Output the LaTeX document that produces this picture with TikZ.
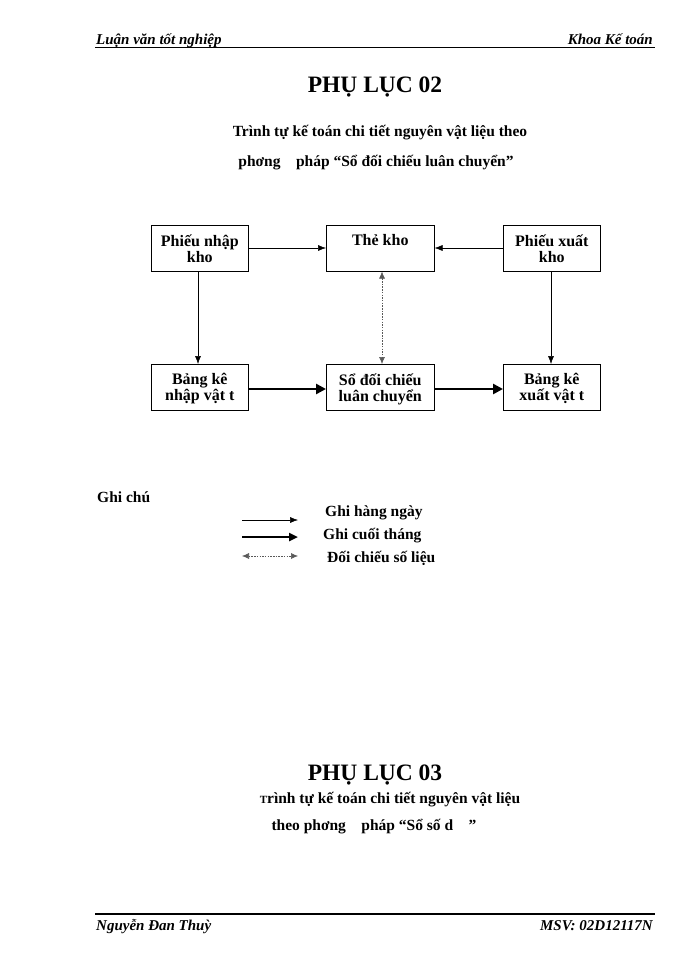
\documentclass[tikz,border=0pt]{standalone}
\usepackage{fontspec}
\setmainfont{Liberation Serif}
\usetikzlibrary{arrows.meta}
\begin{document}
\begin{tikzpicture}[x=1pt,y=-1pt,
  box/.style={draw,line width=0.6pt,minimum width=97pt,minimum height=46pt,anchor=north west,inner sep=0pt},
  btxt/.style={font=\fontsize{16}{16}\selectfont\bfseries,align=center},
  thin/.style={line width=0.5pt,-{Latex[length=8pt,width=6pt]}},
  heavy/.style={line width=2.8pt,-{Triangle[length=10pt,width=10pt]}},
  dots/.style={line width=0.6pt,gray!70!black,dash pattern=on 1.5pt off 1.2pt,{Latex[length=7pt,width=6pt]}-{Latex[length=7pt,width=6pt]}},
  hdr/.style={font=\fontsize{15}{16}\selectfont\bfseries\itshape},
  ttl/.style={font=\fontsize{23.5}{25}\selectfont\bfseries},
  sub/.style={font=\fontsize{15.5}{17}\selectfont\bfseries}]
\useasboundingbox (0,0) rectangle (700,960);
% header
\node[hdr,anchor=base west,inner sep=0pt] (h1) at (96,45) {Luận văn tốt nghiệp};
\node[hdr,anchor=base east,inner sep=0pt] (h2) at (653,45) {Khoa Kế toán};
\coordinate (hl) at (95,47.5); \coordinate (hr) at (655,47.5);
\draw[line width=1.3pt] (hl) -- (hr);
% titles
\node[ttl] (t1) at (375,87) {PHỤ LỤC 02};
\node[sub] (s1) at (380,133) {Trình tự kế toán chi tiết\ nguyên vật liệu\ theo};
\node[sub] (s2) at (376,163) {phơng\quad pháp “Sổ đối chiếu luân chuyển”};
% boxes
\node[box] (pn) at (151,225) {};
\node[box,minimum width=108pt] (tk) at (326,225) {};
\node[box] (px) at (503,225) {};
\node[box] (bn) at (151,364) {};
\node[box,minimum width=108pt] (sd) at (326,364) {};
\node[box] (bx) at (503,364) {};
\node[btxt,anchor=north] (pnt) at ([yshift=-6pt]pn.north) {Phiếu nhập\\kho};
\node[btxt,anchor=north] (tkt) at ([yshift=-6pt]tk.north) {Thẻ kho};
\node[btxt,anchor=north] (pxt) at ([yshift=-6pt]px.north) {Phiếu xuất\\kho};
\node[btxt,anchor=north] (bnt) at ([yshift=-6pt]bn.north) {Bảng kê\\nhập vật t};
\node[btxt,anchor=north] (sdt) at ([yshift=-6pt]sd.north) {Sổ đối chiếu\\luân chuyển};
\node[btxt,anchor=north] (bxt) at ([yshift=-6pt]bx.north) {Bảng kê\\xuất vật t};
% connectors
\draw[thin] (pn.east |- 0,248) -- (tk.west |- 0,248);
\draw[thin] (px.west |- 0,248) -- (tk.east |- 0,248);
\draw[thin] (198,0 |- pn.south) -- (198,0 |- bn.north);
\draw[thin] (551,0 |- px.south) -- (551,0 |- bx.north);
\draw[dots] (382,0 |- tk.south) -- (382,0 |- sd.north);
\draw[heavy] (bn.east |- 0,389) -- (sd.west |- 0,389);
\draw[heavy] (sd.east |- 0,389) -- (bx.west |- 0,389);
% legend
\node[sub,anchor=west,inner sep=0pt] (gc) at (97,497) {Ghi chú};
\coordinate (l1a) at (242,520); \coordinate (l1b) at (298,520);
\coordinate (l2a) at (242,537); \coordinate (l2b) at (298,537);
\coordinate (l3a) at (242,556); \coordinate (l3b) at (298,556);
\draw[thin] (l1a) -- (l1b);
\draw[heavy,line width=2.4pt,-{Triangle[length=9pt,width=8pt]}] (l2a) -- (l2b);
\draw[dots] (l3a) -- (l3b);
\node[sub,anchor=west,inner sep=0pt] (g1) at (325,513) {Ghi hàng ngày};
\node[sub,anchor=west,inner sep=0pt] (g2) at (323,536) {Ghi cuối tháng};
\node[sub,anchor=west,inner sep=0pt] (g3) at (327,558) {Đối chiếu số liệu};
% second title
\node[ttl] (t2) at (375,775) {PHỤ LỤC 03};
\node[sub] (s3) at (390,800) {{\fontsize{11}{12}\selectfont T}rình tự kế toán chi tiết nguyên vật liệu};
\node[sub] (s4) at (374,827) {theo phơng\quad pháp “Sổ số d\quad”};
% footer
\coordinate (fl) at (95,914); \coordinate (fr) at (655,914);
\draw[line width=1.8pt] (fl) -- (fr);
\node[hdr,anchor=base west,inner sep=0pt] (f1) at (96,930) {Nguyễn Đan Thuỳ};
\node[hdr,anchor=base east,inner sep=0pt] (f2) at (653,930) {MSV: 02D12117N};
\end{tikzpicture}
\end{document}
